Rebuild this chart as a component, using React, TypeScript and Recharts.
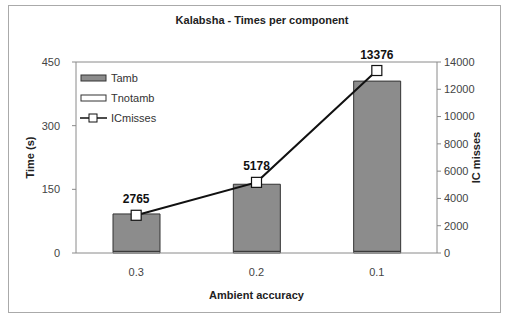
import { ComposedChart, Bar, Line, XAxis, YAxis, Legend, LabelList, ReferenceLine, Label } from 'recharts';

const categories = ['0.3', '0.2', '0.1'];
const tamb = [88, 158, 401];
const tnotamb = [4, 4, 4];
const icMisses = [2765, 5178, 13376];
const timeTicks = [0, 150, 300, 450];
const missTicks = [0, 2000, 4000, 6000, 8000, 10000, 12000, 14000];
const slotTicks = [0, 1, 2, 3];

const data = categories.map((name, i) => ({
  name,
  slot: i + 0.5,
  tamb: tamb[i],
  tnotamb: tnotamb[i],
  ic: icMisses[i],
}));

const FONT = '"Liberation Sans", Arial, sans-serif';
const AXIS = '#8a8a8a';
const TICK = { fontSize: 11, fill: '#444', fontFamily: FONT };
const TITLE_STYLE = { fontFamily: FONT, fontWeight: 'bold', fontSize: 11, fill: '#222', textAnchor: 'middle' as const };

const SquareDot = (props: any) => {
  const { cx, cy, index } = props;
  return <rect key={`dot-${index}`} x={cx - 5} y={cy - 5} width={10} height={10} fill="#fff" stroke="#111" strokeWidth={1.2} />;
};

function LegendBox() {
  const rows = [
    { name: 'Tamb', kind: 'bar', fill: '#8c8c8c' },
    { name: 'Tnotamb', kind: 'bar', fill: '#fff' },
    { name: 'ICmisses', kind: 'line', fill: '#fff' },
  ];
  return (
    <div style={{ fontFamily: FONT, fontSize: 11, color: '#333' }}>
      {rows.map(r => (
        <div key={r.name} style={{ display: 'flex', alignItems: 'center', height: 20 }}>
          <svg width={28} height={12} style={{ marginRight: 3 }}>
            {r.kind === 'bar' ? (
              <rect x={1} y={3} width={25} height={6} fill={r.fill} stroke="#333" />
            ) : (
              <g>
                <line x1={0} y1={6} x2={27} y2={6} stroke="#111" strokeWidth={1.5} />
                <rect x={9} y={2} width={8} height={8} fill="#fff" stroke="#111" />
              </g>
            )}
          </svg>
          <span>{r.name}</span>
        </div>
      ))}
    </div>
  );
}

export default function App() {
  return (
    <div style={{ position: 'absolute', left: 0, top: 0, width: 508, height: 316, background: '#fff' }}>
      <div style={{ position: 'absolute', left: 8, top: 5, width: 491, height: 306, border: '1px solid #aaa' }} />
      <div style={{ position: 'absolute', left: 0, top: 14, width: 524, textAlign: 'center', fontFamily: FONT, fontWeight: 'bold', fontSize: 11, color: '#222' }}>
        Kalabsha - Times per component
      </div>
      <div style={{ position: 'absolute', left: 0, top: 0 }}>
        <ComposedChart width={508} height={316} data={data} margin={{ top: 62, right: 15, bottom: 13, left: 20 }}>
          <XAxis xAxisId="slots" type="number" dataKey="slot" domain={[0, 3]} ticks={slotTicks} height={0}
            tick={false} tickLine={{ stroke: AXIS }} tickSize={4} axisLine={false} allowDataOverflow />
          <XAxis dataKey="name" height={50} tick={TICK} tickLine={false} tickSize={0} tickMargin={15}
            axisLine={{ stroke: AXIS }}>
            <Label value="Ambient accuracy" position="insideBottom" offset={4} fill="#222" style={TITLE_STYLE} />
          </XAxis>
          <YAxis yAxisId="time" width={56} domain={[0, 450]} ticks={timeTicks} tick={TICK}
            tickLine={{ stroke: AXIS }} tickSize={4} tickMargin={12} axisLine={{ stroke: AXIS }}>
            <Label value="Time (s)" angle={-90} position="insideLeft" offset={10} fill="#222" style={TITLE_STYLE} />
          </YAxis>
          <YAxis yAxisId="ic" orientation="right" width={56} domain={[0, 14000]} ticks={missTicks} tick={TICK}
            tickLine={{ stroke: AXIS }} tickSize={4} tickMargin={3} axisLine={{ stroke: AXIS }}>
            <Label value="IC misses" angle={-90} position="insideRight" offset={17} fill="#222" style={TITLE_STYLE} />
          </YAxis>
          <ReferenceLine yAxisId="time" y={450} stroke={AXIS} />
          <Legend layout="vertical" align="center" verticalAlign="middle" content={() => <LegendBox />}
            wrapperStyle={{ position: 'absolute', left: 80, top: 68, width: 120 }} />
          <Bar yAxisId="time" dataKey="tnotamb" name="Tnotamb" stackId="t" fill="#fff" stroke="#333" barSize={47} isAnimationActive={false} />
          <Bar yAxisId="time" dataKey="tamb" name="Tamb" stackId="t" fill="#8c8c8c" stroke="#333" barSize={47} isAnimationActive={false} />
          <Line yAxisId="ic" dataKey="ic" name="ICmisses" stroke="#111" strokeWidth={2} dot={SquareDot} isAnimationActive={false}>
            <LabelList dataKey="ic" position="top" offset={12}
              style={{ fontFamily: FONT, fontWeight: 'bold', fontSize: 12, fill: '#111' }} />
          </Line>
        </ComposedChart>
      </div>
    </div>
  );
}
